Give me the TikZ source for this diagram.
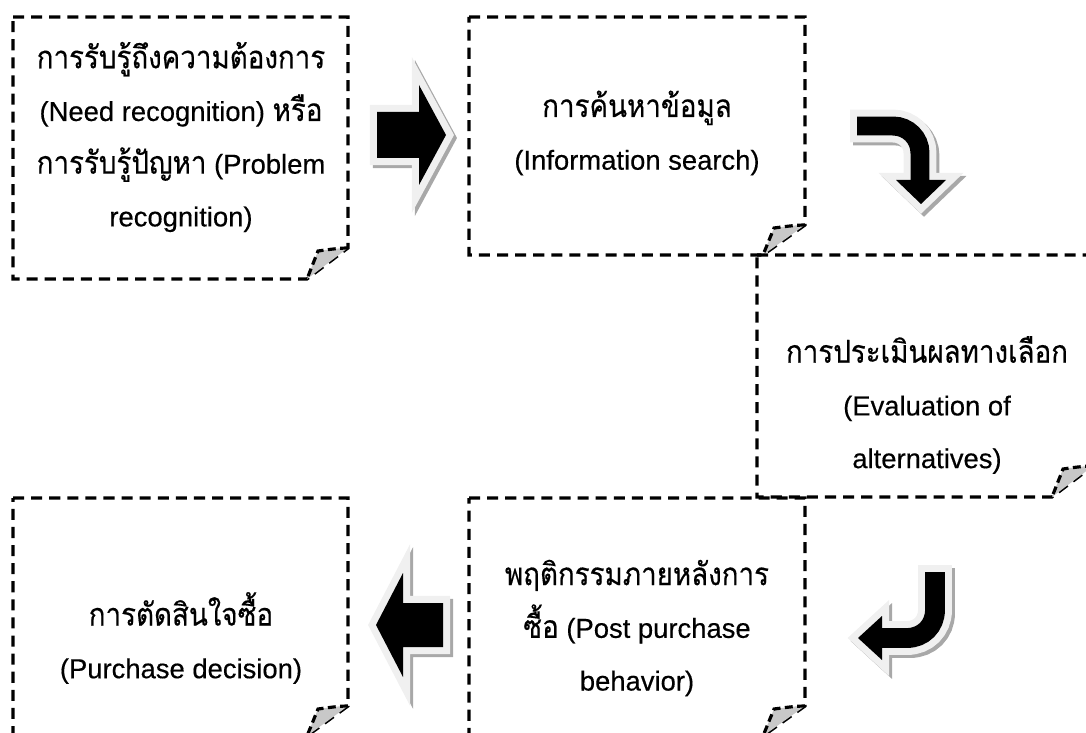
\documentclass[tikz,border=0pt]{standalone}
\usepackage{fontspec}
\setmainfont[FakeBold=0.4]{Liberation Sans}
\newfontfamily\thaifont[Script=Thai, Scale=1.15, FakeStretch=0.88, FakeBold=0.4]{Loma}
\newcommand\thai[1]{{\thaifont #1}}
\definecolor{bevel}{HTML}{F0F0F0}
\definecolor{shade}{HTML}{A8A8A8}
\definecolor{flapgray}{HTML}{C8C8C8}
\tikzset{
  foldbox/.style={draw=black, line width=1.8pt, dash pattern=on 6.3pt off 4pt},
  flap/.style={fill=flapgray, draw=black, line width=1.8pt, dash pattern=on 4.5pt off 2.5pt},
  boxtext/.style={align=center, inner sep=0pt, font=\fontsize{15.6pt}{30pt}\selectfont},
  arrowshade/.style={fill=shade, draw=shade, line width=8pt, line join=miter},
  arrowbevel/.style={fill=bevel, draw=bevel, line width=8pt, line join=miter},
  arrowbody/.style={fill=black},
  bandshade/.style={draw=shade, line width=#1},
  bandbevel/.style={draw=bevel, line width=#1},
  bandbody/.style={draw=black, line width=#1}
}
\begin{document}
\begin{tikzpicture}[x=0.02cm, y=-0.02cm]
\useasboundingbox (0,0) rectangle (1086,733);

% boxes with folded corner
\draw[foldbox] (13,17) -- (348,17) -- (348,248) -- (307,279) -- (13,279) -- cycle;
\draw[flap] (348,248) .. controls (338,248) and (326,250) .. (318,251) -- (307,279);
\draw[foldbox] (469,17) -- (805,17) -- (805,225) -- (763,255) -- (469,255) -- cycle;
\draw[flap] (805,225) .. controls (795,225) and (782,227) .. (774,228) -- (763,255);
\draw[foldbox] (757,255) -- (1093,255) -- (1093,466) -- (1052,497) -- (757,497) -- cycle;
\draw[flap] (1093,466) .. controls (1083,466) and (1070,468) .. (1063,469) -- (1052,497);
\draw[foldbox] (469,498) -- (805,498) -- (805,706) -- (763,736) -- (469,736) -- cycle;
\draw[flap] (805,706) .. controls (795,706) and (782,708) .. (774,709) -- (763,736);
\draw[foldbox] (13,498) -- (348,498) -- (348,706) -- (307,736) -- (13,736) -- cycle;
\draw[flap] (348,706) .. controls (338,706) and (326,708) .. (318,709) -- (307,736);

% texts
\node[boxtext] (need) at (181,137) {\thai{การรับรู้ถึงความต้องการ}\\
  (Need recognition) \thai{หรือ}\\
  \thai{การรับรู้ปัญหา} (Problem\\
  recognition)};
\node[boxtext] (search) at (637,133) {\thai{การค้นหาข้อมูล}\\(Information search)};
\node[boxtext] (evaluate) at (927,405) {\thai{การประเมินผลทางเลือก}\\(Evaluation of\\alternatives)};
\node[boxtext] (post) at (637,628) {\thai{พฤติกรรมภายหลังการ}\\
  \thai{ซื้อ} (Post purchase\\behavior)};
\node[boxtext] (decide) at (181,638) {\thai{การตัดสินใจซื้อ}\\(Purchase decision)};

% block arrows
\coordinate (ra) at (377,135);
\coordinate (la) at (443,625);
\begin{scope}[shift={(ra)}]
  \draw[arrowshade, shift={(3,3)}] (0,-23) -- (42,-23) -- (42,-50) -- (69,0) -- (42,50) -- (42,23) -- (0,23) -- cycle;
  \draw[arrowbevel] (0,-23) -- (42,-23) -- (42,-50) -- (69,0) -- (42,50) -- (42,23) -- (0,23) -- cycle;
  \fill[arrowbody] (0,-23) -- (42,-23) -- (42,-50) -- (69,0) -- (42,50) -- (42,23) -- (0,23) -- cycle;
\end{scope}
\begin{scope}[shift={(la)}]
  \draw[arrowshade, shift={(3,3)}] (0,-22) -- (-40,-22) -- (-40,-52) -- (-67,0) -- (-40,52) -- (-40,22) -- (0,22) -- cycle;
  \draw[arrowbevel] (0,-22) -- (-40,-22) -- (-40,-52) -- (-67,0) -- (-40,52) -- (-40,22) -- (0,22) -- cycle;
  \fill[arrowbody] (0,-22) -- (-40,-22) -- (-40,-52) -- (-67,0) -- (-40,52) -- (-40,22) -- (0,22) -- cycle;
\end{scope}

% curved arrow, turning down
\begin{scope}[shift={(3,3)}]
  \draw[bandshade=18.7pt] (850,126) -- (893,126) .. controls (908,126) and (920,138) .. (920,153) -- (920,181);
  \draw[arrowshade] (896,180) -- (946,180) -- (921,204) -- cycle;
\end{scope}
\draw[bandbevel=18.7pt] (850,126) -- (893,126) .. controls (908,126) and (920,138) .. (920,153) -- (920,181);
\draw[arrowbevel] (896,180) -- (946,180) -- (921,204) -- cycle;
\draw[bandbody=10.8pt] (857,126) -- (893,126) .. controls (908,126) and (920,138) .. (920,153) -- (920,181);
\fill[arrowbody] (896,180) -- (946,180) -- (921,204) -- cycle;

% curved arrow, turning left
\begin{scope}[shift={(3,3)}]
  \draw[bandshade=19.3pt] (935,565) -- (935,610) .. controls (935,626) and (923,638) .. (907,638) -- (881,638);
  \draw[arrowshade] (882,616) -- (882,660) -- (858,638) -- cycle;
\end{scope}
\draw[bandbevel=19.3pt] (935,565) -- (935,610) .. controls (935,626) and (923,638) .. (907,638) -- (881,638);
\draw[arrowbevel] (882,616) -- (882,660) -- (858,638) -- cycle;
\draw[bandbody=11.3pt] (935,572) -- (935,610) .. controls (935,626) and (923,638) .. (907,638) -- (881,638);
\fill[arrowbody] (882,616) -- (882,660) -- (858,638) -- cycle;
\end{tikzpicture}
\end{document}
